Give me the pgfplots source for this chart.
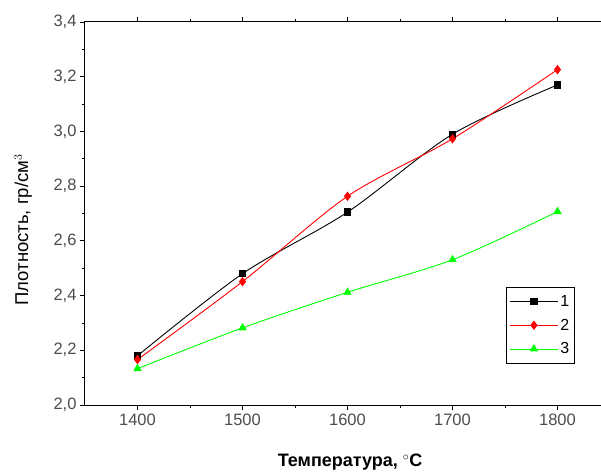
\documentclass[border=0pt]{standalone}
\usepackage{pgfplots}
\pgfplotsset{compat=1.18}
\usepackage{fontspec}
\setmainfont{Liberation Sans}
\begin{document}
\begin{tikzpicture}
\begin{axis}[
  at={(0,0)}, anchor=south west,
  scale only axis,
  width=525pt, height=383pt,
  xmin=1350, xmax=1850,
  ymin=2.0, ymax=3.4,
  xtick={1400,1500,1600,1700,1800},
  ytick={2.0,2.2,...,3.4},
  minor x tick num=1, minor y tick num=1,
  tick align=outside,
  xtick pos=both, ytick pos=left,
  major tick length=5pt, minor tick length=3pt,
  axis line style={line width=1pt},
  every tick/.style={line width=0.8pt, black},
  /pgf/number format/assume math mode=true,
  yticklabel style={/pgf/number format/.cd, use comma, fixed, fixed zerofill, precision=1},
  xticklabel style={/pgf/number format/.cd, set thousands separator={}},
  ticklabel style={font=\fontsize{16.5}{18}\selectfont, text=black!70},
  xlabel={Температура, $^{\circ}$C},
  ylabel={Плотность, гр/см$^3$},
  xlabel style={font=\fontsize{18}{20}\selectfont\bfseries, at={(axis description cs:0.505,-0.149)}, anchor=center},
  ylabel style={font=\fontsize{18.5}{20}\selectfont, at={(axis description cs:-0.118,0.457)}, anchor=center, rotate=0},
  legend style={at={(axis description cs:0.802,0.308)}, anchor=north west, draw=black, line width=0.8pt, font=\fontsize{16}{18}\selectfont, row sep=7pt, inner xsep=3pt, inner ysep=6pt},
  legend image code/.code={\draw[mark repeat=2,mark phase=2] plot coordinates {(0pt,0pt) (24pt,0pt) (48pt,0pt)};},
  legend cell align=left,
]
\addplot[black, line width=0.9pt, smooth, mark=square*, mark size=3.2pt, mark options={solid}] coordinates {
  (1400,2.18) (1500,2.48) (1600,2.705) (1700,2.99) (1800,3.17)};
\addlegendentry{1}
\addplot[red, line width=0.9pt, smooth, mark=diamond*, mark size=4pt] coordinates {
  (1400,2.166) (1500,2.451) (1600,2.763) (1700,2.973) (1800,3.226)};
\addlegendentry{2}
\addplot[green, line width=0.9pt, smooth, mark=triangle*, mark size=4pt] coordinates {
  (1400,2.133) (1500,2.282) (1600,2.412) (1700,2.531) (1800,2.707)};
\addlegendentry{3}
\end{axis}
\pgfresetboundingbox
\useasboundingbox (-85pt,-69pt) rectangle (516pt,405pt);
\end{tikzpicture}
\end{document}
